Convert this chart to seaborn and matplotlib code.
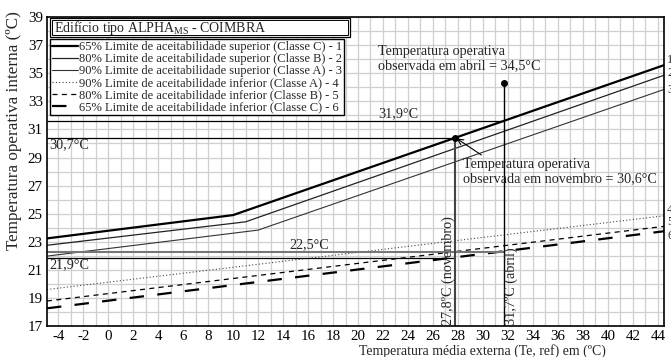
import numpy as np
import pandas as pd
import matplotlib
matplotlib.use("Agg")
import matplotlib.pyplot as plt
from matplotlib.patches import Rectangle
from matplotlib.lines import Line2D
import seaborn as sns

# ---------------- data ----------------
te_1 = [-4.9, 10.0, 44.5]
tc_1 = [23.24, 24.90, 35.58]
te_2 = [-4.9, 11.0, 44.5]
tc_2 = [22.75, 24.42, 34.86]
te_3 = [-4.9, 12.0, 44.5]
tc_3 = [21.98, 23.83, 33.85]
te_low = [-4.9, 44.5]
tc_4 = [19.60, 24.85]
tc_5 = [18.78, 24.10]
tc_6 = [18.26, 23.75]

labels = [
    "65% Limite de aceitabilidade superior (Classe C) - 1",
    "80% Limite de aceitabilidade superior (Classe B) - 2",
    "90% Limite de aceitabilidade superior (Classe A) - 3",
    "90% Limite de aceitabilidade inferior (Classe A) - 4",
    "80% Limite de aceitabilidade inferior (Classe B) - 5",
    "65% Limite de aceitabilidade inferior (Classe C) - 6",
]
end_labels = ["1", "2", "3", "4", "5", "6"]
end_label_y = [35.95, 35.05, 33.8, 25.25, 24.4, 23.4]

te_nov, tc_nov = 27.8, 30.42
te_abr, tc_abr = 31.7, 34.3
h_nov_up, h_abr_up = 30.42, 31.63
h_nov_low, h_abr_low = 21.85, 22.3

xticks = list(range(-4, 45, 2))
yticks = list(range(17, 40, 2))

# ---------------- style ----------------
sns.set_theme(style="white")
plt.rcParams["font.family"] = ["Liberation Serif", "DejaVu Serif"]
plt.rcParams["mathtext.fontset"] = "custom"
plt.rcParams["mathtext.rm"] = "Liberation Serif"
plt.rcParams["axes.unicode_minus"] = False

fig = plt.figure(figsize=(6.71, 3.57), dpi=100)
ax = fig.add_axes([0.070, 0.0868, 0.9196, 0.8652])

styles = [
    dict(color="black", lw=1.6, ls="-"),
    dict(color="#222222", lw=0.9, ls="-"),
    dict(color="#333333", lw=0.8, ls="-"),
    dict(color="#444444", lw=0.8, ls=(0, (1, 2))),
    dict(color="black", lw=0.9, ls=(0, (4, 3.5))),
    dict(color="black", lw=1.6, ls=(0, (6.5, 6))),
]
series = [(te_1, tc_1), (te_2, tc_2), (te_3, tc_3),
          (te_low, tc_4), (te_low, tc_5), (te_low, tc_6)]

handles = []
for (xs, ys), st, lab in zip(series, styles, labels):
    df = pd.DataFrame({"te": xs, "tc": ys})
    sns.lineplot(data=df, x="te", y="tc", ax=ax, color=st["color"],
                 linewidth=st["lw"], linestyle=st["ls"], estimator=None,
                 sort=False, legend=False)
    handles.append(Line2D([0], [0], color=st["color"], lw=st["lw"], ls=st["ls"]))

# reference lines
ax.hlines(h_abr_up, -4.9, te_abr, color="black", lw=0.9)
ax.hlines(h_nov_up, -4.9, te_nov, color="black", lw=0.9)
ax.hlines(h_abr_low, -4.9, te_abr, color="#777777", lw=1.5)
ax.hlines(h_nov_low, -4.9, te_nov, color="black", lw=0.9)
ax.vlines(te_nov, 17, tc_nov, color="#444444", lw=1.5)
ax.vlines(te_abr, 17, tc_abr, color="black", lw=1.0)
ax.plot([te_nov, te_abr], [tc_nov, tc_abr], "o", color="black", ms=4)

# end labels (partly cut by the figure edge, as in the original)
for yv, lab in zip(end_label_y, end_labels):
    ax.text(44.75, yv, lab, fontsize=9, va="center", ha="left",
            clip_on=False, color="#333333")

fs = 10.2
ax.text(21.6, 37.0, "Temperatura operativa\nobservada em abril = 34,5°C",
        fontsize=fs, va="top", ha="left", linespacing=1.05)
ax.annotate("Temperatura operativa\nobservada em novembro = 30,6°C",
            xy=(te_nov, tc_nov), xytext=(28.4, 28.95), fontsize=fs,
            va="top", ha="left", linespacing=1.1,
            arrowprops=dict(arrowstyle="->", color="black", lw=0.8,
                            shrinkA=0, shrinkB=1, relpos=(0.12, 1.0)))
ax.text(21.6, h_abr_up + 0.05, "31,9°C", fontsize=fs, va="bottom", ha="left")
ax.text(-4.7, h_nov_up - 0.05, "30,7°C", fontsize=fs, va="top", ha="left")
ax.text(14.5, h_abr_low + 0.0, "22,5°C", fontsize=fs, va="bottom", ha="left")
ax.text(-4.7, h_nov_low - 0.05, "21,9°C", fontsize=fs, va="top", ha="left")
ax.text(te_nov - 0.05, 17.1, "27,8ºC (novembro)", fontsize=fs, rotation=90,
        va="bottom", ha="right")
ax.text(te_abr + 0.05, 17.1, "31,7ºC (abril)", fontsize=fs, rotation=90,
        va="bottom", ha="left")

# axes
ax.set_xlim(-4.9, 44.5)
ax.set_ylim(17, 39)
ax.set_xticks(xticks)
ax.set_yticks(yticks)
ax.set_xticks(np.arange(-4, 45, 1), minor=True)
ax.set_yticks(np.arange(17, 40, 1), minor=True)
ax.grid(True, which="both", color="#cfcfcf", lw=0.9)
ax.set_axisbelow(True)
ax.tick_params(which="both", length=0)
ax.tick_params(axis="both", labelsize=10.8, pad=3, colors="black")
for sp in ax.spines.values():
    sp.set_color("black")
    sp.set_linewidth(1.2)

ax.set_xlabel("Temperatura média externa (Te, ref) em (ºC)", fontsize=10)
ax.xaxis.set_label_coords(0.705, -0.058)
ax.set_ylabel("Temperatura operativa interna (ºC)", fontsize=12.3)
ax.yaxis.set_label_coords(-0.040, 0.634)

# legend
leg = ax.legend(handles, labels, loc="upper left",
                bbox_to_anchor=(0.005, 0.929), fontsize=9.0,
                handlelength=2.1, handletextpad=0.1, labelspacing=0.0,
                borderpad=0.15, borderaxespad=0, frameon=True,
                fancybox=False, framealpha=1, edgecolor="black")
leg.get_frame().set_linewidth(1.0)

# title box
ax.add_patch(Rectangle((0.005, 0.935), 0.486, 0.062, transform=ax.transAxes,
                       facecolor="white", edgecolor="black", lw=0.9, zorder=5))
ax.add_patch(Rectangle((0.0085, 0.942), 0.479, 0.048, transform=ax.transAxes,
                       facecolor="none", edgecolor="black", lw=0.7, zorder=6))
ax.text(0.012, 0.964, r"Edifício tipo ALPHA$_{\mathrm{MS}}$ - COIMBRA",
        transform=ax.transAxes, fontsize=10, va="center", ha="left", zorder=7)

fig.savefig("out.png", dpi=100)
